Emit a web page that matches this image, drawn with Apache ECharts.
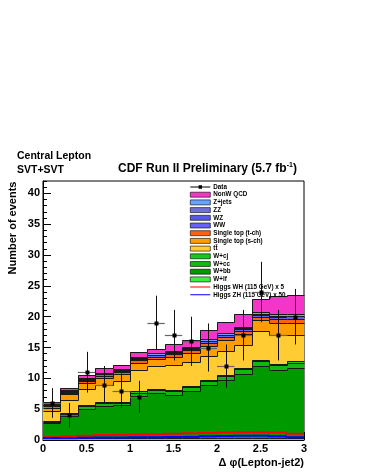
<!DOCTYPE html>
<html>
<head>
<meta charset="utf-8">
<script src="https://cdn.jsdelivr.net/npm/echarts@6/dist/echarts.min.js"></script>
<style>
  html, body { margin: 0; padding: 0; background: #fff; }
  #chart { width: 365px; height: 473px; }
</style>
</head>
<body>
<div id="chart"></div>
<script>
// CDF W+H search, central lepton SVT+SVT: delta phi(lepton, jet2)
var binEdges = [0, 0.2, 0.4, 0.6, 0.8, 1.0, 1.2, 1.4, 1.6, 1.8, 2.0, 2.2, 2.4, 2.6, 2.8, 3.0];

// stacked backgrounds, bottom to top
var wlf     = [0.3, 0.3, 0.35, 0.35, 0.35, 0.35, 0.35, 0.35, 0.35, 0.4, 0.4, 0.4, 0.4, 0.4, 0.35];
var wbb     = [2.4, 3.6, 4.7, 5.15, 5.25, 6.85, 7.2, 7.0, 7.65, 8.5, 9.25, 10.3, 11.55, 10.95, 11.4];
var wcc     = [0.3, 0.35, 0.4, 0.45, 0.45, 0.5, 0.55, 0.55, 0.6, 0.65, 0.7, 0.75, 0.8, 0.8, 0.8];
var wcj     = [0.1, 0.15, 0.15, 0.15, 0.15, 0.2, 0.2, 0.2, 0.2, 0.25, 0.25, 0.25, 0.25, 0.25, 0.25];
var ttbar   = [1.6, 2.1, 2.6, 2.9, 3.3, 3.4, 3.7, 4.1, 3.9, 3.8, 3.9, 3.7, 4.6, 4.7, 4.3];
var stopS   = [0.5, 0.9, 1.0, 1.1, 1.2, 1.2, 1.1, 1.3, 1.4, 1.6, 1.7, 1.8, 1.8, 1.9, 1.9];
var stopT   = [0.25, 0.3, 0.35, 0.35, 0.35, 0.4, 0.4, 0.4, 0.45, 0.5, 0.5, 0.55, 0.6, 0.6, 0.6];
var ww      = [0.15, 0.15, 0.2, 0.2, 0.2, 0.25, 0.25, 0.25, 0.25, 0.3, 0.3, 0.3, 0.35, 0.35, 0.35];
var wz      = [0.05, 0.05, 0.05, 0.05, 0.05, 0.05, 0.05, 0.05, 0.05, 0.05, 0.05, 0.05, 0.05, 0.05, 0.05];
var zz      = [0.05, 0.05, 0.05, 0.05, 0.05, 0.05, 0.05, 0.05, 0.05, 0.05, 0.05, 0.05, 0.1, 0.1, 0.1];
var zjets   = [0.1, 0.1, 0.15, 0.15, 0.15, 0.2, 0.2, 0.2, 0.2, 0.2, 0.25, 0.25, 0.3, 0.3, 0.3];
var nonWQCD = [0.3, 0.45, 0.6, 0.7, 0.7, 0.85, 0.75, 1.05, 1.1, 1.5, 1.75, 2.1, 2.1, 3.0, 3.1];

// signal overlays (not stacked)
var higgsWH = [0.45, 0.55, 0.7, 0.8, 0.85, 0.9, 0.95, 1.0, 1.1, 1.15, 1.2, 1.25, 1.25, 1.2, 1.0];
var higgsZH = [0.3, 0.3, 0.35, 0.4, 0.4, 0.45, 0.45, 0.5, 0.5, 0.6, 0.65, 0.7, 0.7, 0.6, 0.45];

// observed events
var dataCounts = [6, 4, 11, 9, 8, 7, 19, 17, 16, 15, 12, 17, 24, 17, 20];
var dataErr    = [2.4, 2.0, 3.3, 3.0, 2.8, 2.6, 4.4, 4.1, 4.0, 3.9, 3.5, 4.1, 4.9, 4.1, 4.5];

var yTicks = [0, 5, 10, 15, 20, 25, 30, 35, 40];
var xTicks = [0, 0.5, 1, 1.5, 2, 2.5, 3];

var TT = 'tt\u0304';
var layers = [
  { name: 'W+lf', values: wlf },
  { name: 'W+bb', values: wbb },
  { name: 'W+cc', values: wcc },
  { name: 'W+cj', values: wcj },
  { name: TT, values: ttbar },
  { name: 'Single top (s-ch)', values: stopS },
  { name: 'Single top (t-ch)', values: stopT },
  { name: 'WW', values: ww },
  { name: 'WZ', values: wz },
  { name: 'ZZ', values: zz },
  { name: 'Z+jets', values: zjets },
  { name: 'NonW QCD', values: nonWQCD }
];
var colors = {
  'W+lf': '#3cf03c',
  'W+bb': '#009a00',
  'W+cc': '#10b810',
  'W+cj': '#18c818',
  'Single top (s-ch)': '#ff9c00',
  'Single top (t-ch)': '#ff6010',
  'WW': '#6464f4',
  'WZ': '#5858e8',
  'ZZ': '#7070dc',
  'Z+jets': '#6aa4ff',
  'NonW QCD': '#f535c8'
};
colors[TT] = '#ffcc33';
var FONT = 'Liberation Sans';

function renderLayer(color) {
  return function (params, api) {
    var x0 = api.value(0), x1 = api.value(1), y0 = api.value(2), y1 = api.value(3), yp = api.value(4);
    var a = api.coord([x0, y1]), b = api.coord([x1, y0]), p = api.coord([x0, yp]);
    var l = Math.round(a[0]), r = Math.round(b[0]);
    var t = Math.round(a[1]), bt = Math.round(b[1]), pt = Math.round(p[1]);
    return {
      type: 'group',
      children: [
        { type: 'rect', z2: 0, shape: { x: l, y: t, width: r - l, height: bt - t }, style: { fill: color } },
        { type: 'polyline', z2: 10, shape: { points: [[l + 0.5, pt + 0.5], [l + 0.5, t + 0.5], [r + 0.5, t + 0.5]] },
          style: { stroke: '#1a1a1a', lineWidth: 1, fill: null } }
      ]
    };
  };
}

var series = [];
var cum = binEdges.slice(1).map(function () { return 0; });
layers.forEach(function (ly) {
  var items = [];
  var newCum = cum.map(function (c, i) { return c + ly.values[i]; });
  for (var i = 0; i < ly.values.length; i++) {
    items.push([binEdges[i], binEdges[i + 1], cum[i], newCum[i], i === 0 ? newCum[i] : newCum[i - 1]]);
  }
  cum = newCum;
  series.push({
    name: ly.name, type: 'custom', renderItem: renderLayer(colors[ly.name]),
    itemStyle: { color: colors[ly.name] }, data: items, silent: true, z: 2
  });
});

function stepSeries(name, values, color) {
  var items = values.map(function (v, i) {
    return [binEdges[i], binEdges[i + 1], v, i === 0 ? v : values[i - 1]];
  });
  return {
    name: name, type: 'custom', silent: true, z: 4,
    itemStyle: { color: color },
    renderItem: function (params, api) {
      var a = api.coord([api.value(0), api.value(2)]);
      var b = api.coord([api.value(1), api.value(2)]);
      var p = api.coord([api.value(0), api.value(3)]);
      return { type: 'polyline', z2: 20, shape: { points: [[a[0], p[1]], a, b] },
        style: { stroke: color, lineWidth: 2, fill: null } };
    },
    data: items
  };
}
series.push(stepSeries('Higgs WH (115 GeV) x 5', higgsWH, '#ff0000'));
series.push(stepSeries('Higgs ZH (115 GeV) x 50', higgsZH, '#0000ff'));

series.push({
  name: 'Data', type: 'custom', silent: true, z: 5,
  itemStyle: { color: '#000' },
  renderItem: function (params, api) {
    var x0 = api.value(0), x1 = api.value(1), y = api.value(2), e = api.value(3);
    var xc = (x0 + x1) / 2;
    var c = api.coord([xc, y]);
    var lo = api.coord([xc, y - e]), hi = api.coord([xc, y + e]);
    var l = api.coord([x0, y]), r = api.coord([x1, y]);
    var cx = Math.round(c[0]) + 0.5, cy = Math.round(c[1]) + 0.5;
    return {
      type: 'group',
      children: [
        { type: 'line', z2: 30, shape: { x1: cx, y1: lo[1], x2: cx, y2: hi[1] }, style: { stroke: '#111', lineWidth: 1 } },
        { type: 'line', z2: 30, shape: { x1: l[0], y1: cy, x2: r[0], y2: cy }, style: { stroke: '#666', lineWidth: 1.2 } },
        { type: 'rect', z2: 31, shape: { x: cx - 2, y: cy - 2, width: 4, height: 4 }, style: { fill: '#000' } }
      ]
    };
  },
  data: dataCounts.map(function (v, i) { return [binEdges[i], binEdges[i + 1], v, dataErr[i]]; })
});

var lineIcon = 'path://M0,0h0.01v5h-0.01zM0,2h20v1h-20z';
var dataIcon = 'path://M0,0h0.01v5h-0.01zM0,2.1h20v0.8h-20zM8.3,0.8h3.4v3.4h-3.4z';
var legendOrder = ['Data', 'NonW QCD', 'Z+jets', 'ZZ', 'WZ', 'WW', 'Single top (t-ch)', 'Single top (s-ch)',
  TT, 'W+cj', 'W+cc', 'W+bb', 'W+lf', 'Higgs WH (115 GeV) x 5', 'Higgs ZH (115 GeV) x 50'];
var legendData = legendOrder.map(function (n) {
  if (n === 'Data') return { name: n, icon: dataIcon, itemStyle: { borderWidth: 0 } };
  if (n.indexOf('Higgs') === 0) return { name: n, icon: lineIcon, itemStyle: { borderWidth: 0 } };
  return { name: n, icon: 'rect' };
});

var chart = echarts.init(document.getElementById('chart'));
chart.setOption({
  animation: false,
  backgroundColor: '#fff',
  grid: { left: 43, right: 61, top: 181, bottom: 33, show: true, borderColor: '#000', borderWidth: 1, backgroundColor: 'transparent' },
  legend: {
    orient: 'vertical', left: 190, top: 184, padding: 0,
    itemWidth: 20, itemHeight: 5, itemGap: 1.7, selectedMode: false,
    itemStyle: { borderColor: '#000', borderWidth: 0.6 },
    textStyle: { fontFamily: FONT, fontSize: 6.3, fontWeight: 'bold', color: '#000', lineHeight: 5, padding: [0, 0, 0, -2] },
    data: legendData
  },
  xAxis: [{
    type: 'value', min: 0, max: 3, interval: 0.5,
    axisLine: { show: true, lineStyle: { color: '#000', width: 1 } },
    axisTick: { show: true, inside: true, length: 8, lineStyle: { color: '#000' }, customValues: xTicks },
    axisLabel: { fontFamily: FONT, fontSize: 11, fontWeight: 'bold', color: '#000', margin: 3, customValues: xTicks },
    splitLine: { show: false }
  }, {
    type: 'value', min: 0, max: 3, interval: 0.1, position: 'bottom',
    axisLine: { show: false },
    axisTick: { show: true, inside: true, length: 4, lineStyle: { color: '#000' } },
    axisLabel: { show: false }, splitLine: { show: false }
  }],
  yAxis: [{
    type: 'value', min: 0, max: 42, interval: 5,
    axisLine: { show: true, lineStyle: { color: '#000', width: 1 } },
    axisTick: { show: true, inside: true, length: 8, lineStyle: { color: '#000' }, customValues: yTicks },
    axisLabel: { fontFamily: FONT, fontSize: 11, fontWeight: 'bold', color: '#000', margin: 3, customValues: yTicks },
    splitLine: { show: false }
  }, {
    type: 'value', min: 0, max: 42, interval: 1, position: 'left',
    axisLine: { show: false },
    axisTick: { show: true, inside: true, length: 4, lineStyle: { color: '#000' } },
    axisLabel: { show: false }, splitLine: { show: false }
  }],
  graphic: [
    { type: 'text', left: 17, top: 151, style: { text: 'Central Lepton', font: 'bold 10.5px "Liberation Sans"', fill: '#000' } },
    { type: 'text', left: 17, top: 165, style: { text: 'SVT+SVT', font: 'bold 10.5px "Liberation Sans"', fill: '#000' } },
    { type: 'text', left: 118, top: 162, style: {
        text: '{a|CDF Run II Preliminary (5.7 fb}{s|-1}{a|)}',
        rich: {
          a: { fontFamily: FONT, fontSize: 12, fontWeight: 'bold', fill: '#000', verticalAlign: 'bottom' },
          s: { fontFamily: FONT, fontSize: 7, fontWeight: 'bold', fill: '#000', verticalAlign: 'top', padding: [0, 0, 6, 0] }
        } } },
    { type: 'text', x: 12.5, y: 228, rotation: Math.PI / 2,
      style: { text: 'Number of events', font: 'bold 11px "Liberation Sans"', fill: '#000', align: 'center', verticalAlign: 'middle' } },
    { type: 'text', x: 304, y: 463, style: { text: '\u0394 \u03c6(Lepton-jet2)', font: 'bold 11px "Liberation Sans"', fill: '#000', align: 'right', verticalAlign: 'middle' } }
  ],
  series: series
});
</script>
</body>
</html>
